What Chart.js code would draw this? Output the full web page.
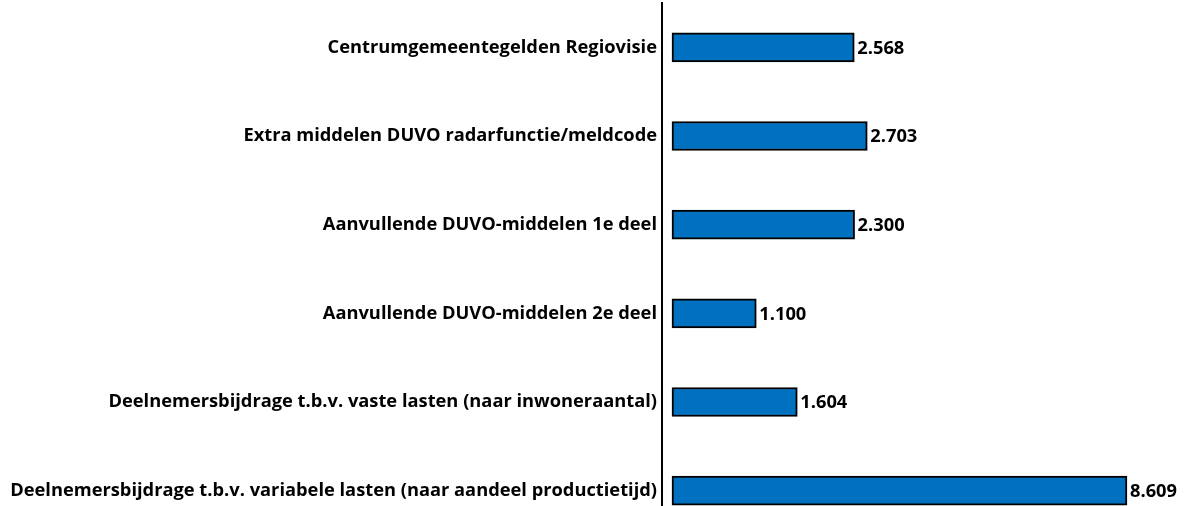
<!DOCTYPE html>
<html>
<head>
<meta charset="utf-8">
<script src="https://cdn.jsdelivr.net/npm/chart.js@4/dist/chart.umd.min.js"></script>
<style>
  html, body { margin: 0; padding: 0; background: #fff; overflow: hidden; }
  #wrap { width: 1186px; height: 506px; overflow: hidden; }
</style>
</head>
<body>
<div id="wrap"><canvas id="c" width="1186" height="540"></canvas></div>
<script>
// Categories (top to bottom)
const categories = [
  "Centrumgemeentegelden Regiovisie",
  "Extra middelen DUVO radarfunctie/meldcode",
  "Aanvullende DUVO-middelen 1e deel",
  "Aanvullende DUVO-middelen 2e deel",
  "Deelnemersbijdrage t.b.v. vaste lasten (naar inwoneraantal)",
  "Deelnemersbijdrage t.b.v. variabele lasten (naar aandeel productietijd)"
];
// Value labels printed next to the bars
const valueLabels = ["2.568", "2.703", "2.300", "1.100", "1.604", "8.609"];
// Bar lengths as drawn in the picture (scaled so the longest bar equals its label)
const barLengths = [3.449, 3.695, 3.455, 1.595, 2.371, 8.609];

const FONT = '"Open Sans", Lato, sans-serif';
const FONT_SIZE = 18.3;

const valueLabelPlugin = {
  id: 'valueLabels',
  afterDatasetsDraw(chart) {
    const ctx = chart.ctx;
    const meta = chart.getDatasetMeta(0);
    ctx.save();
    ctx.font = 'bold ' + FONT_SIZE + 'px ' + FONT;
    ctx.fillStyle = '#000';
    ctx.textAlign = 'left';
    ctx.textBaseline = 'middle';
    meta.data.forEach((bar, i) => {
      ctx.fillText(valueLabels[i], bar.x + 3, bar.y + 1);
    });
    ctx.restore();
  }
};

new Chart(document.getElementById('c'), {
  type: 'bar',
  data: {
    labels: categories,
    datasets: [{
      data: barLengths,
      backgroundColor: '#0070C0',
      borderColor: '#000000',
      borderWidth: 2,
      borderSkipped: false,
      barThickness: 29
    }]
  },
  options: {
    indexAxis: 'y',
    responsive: false,
    animation: false,
    layout: { padding: { top: 3, bottom: 5, left: 0, right: 0 } },
    plugins: {
      legend: { display: false },
      tooltip: { enabled: false }
    },
    scales: {
      x: {
        display: false,
        min: -0.189,
        max: 9.726
      },
      y: {
        grid: { display: false, drawTicks: false },
        border: { display: true, color: '#000', width: 2 },
        ticks: {
          color: '#000',
          padding: 5,
          font: { family: FONT, size: FONT_SIZE, weight: 'bold' }
        },
        afterFit(scale) {
          scale.width = 662;
          scale.paddingTop = 0;
          scale.paddingBottom = 0;
        }
      }
    }
  },
  plugins: [valueLabelPlugin]
});
</script>
</body>
</html>
